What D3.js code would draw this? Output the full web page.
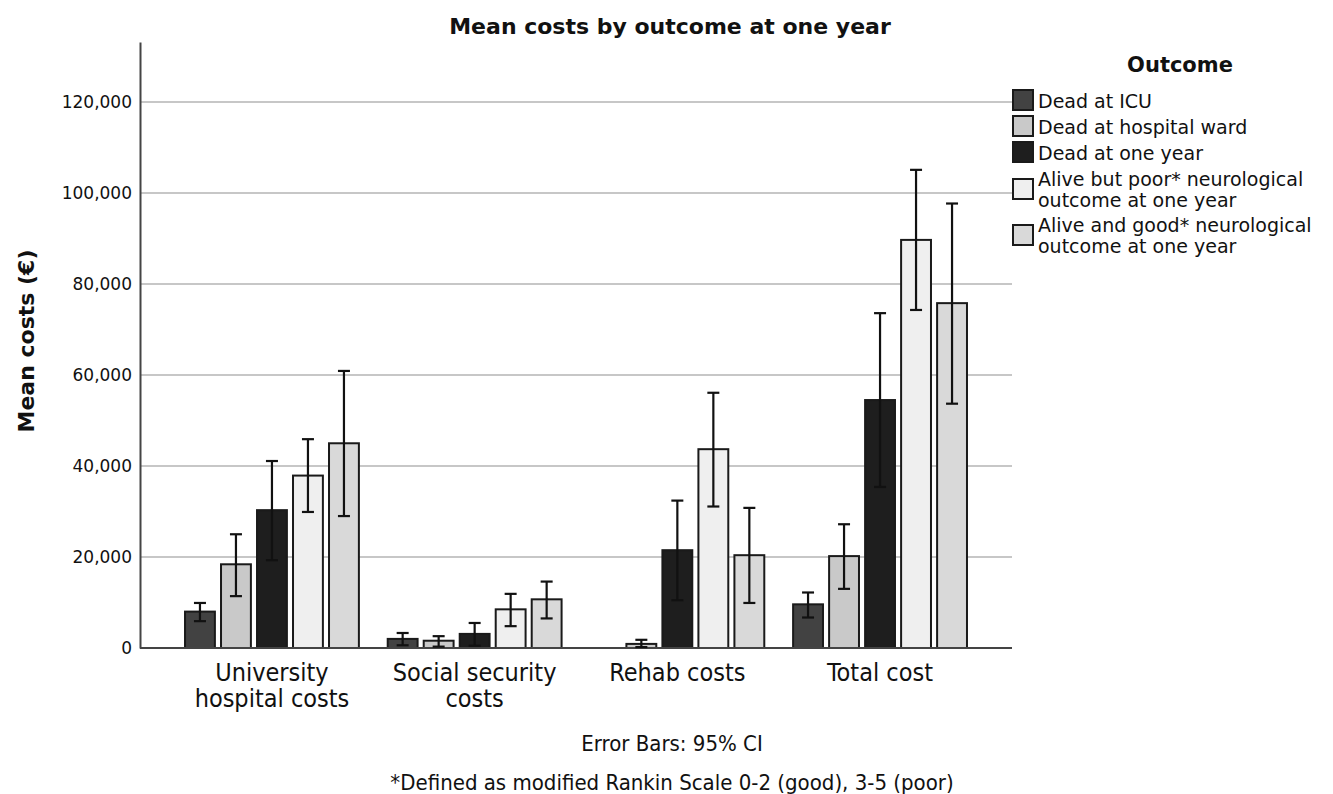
<!DOCTYPE html>
<html>
<head>
<meta charset="utf-8">
<script src="https://cdn.jsdelivr.net/npm/d3@7"></script>
<style>
  body { margin: 0; background: #fff; }
  text { fill: #111; }
</style>
</head>
<body>
<script>
'use strict';

const width = 1333;
const height = 794;

// data
const categories = ['University hospital costs', 'Social security costs', 'Rehab costs', 'Total cost'];
const categoryLines = [['University', 'hospital costs'], ['Social security', 'costs'], ['Rehab costs'], ['Total cost']];
const outcomes = ['Dead at ICU', 'Dead at hospital ward', 'Dead at one year',
  'Alive but poor* neurological outcome at one year', 'Alive and good* neurological outcome at one year'];
const outcomeLines = [['Dead at ICU'], ['Dead at hospital ward'], ['Dead at one year'],
  ['Alive but poor* neurological', 'outcome at one year'], ['Alive and good* neurological', 'outcome at one year']];

const meanDeadIcu  = [8000, 2000, 0, 9600];
const meanDeadWard = [18400, 1600, 900, 20200];
const meanDeadYear = [30300, 3100, 21500, 54500];
const meanPoor     = [37900, 8500, 43700, 89700];
const meanGood     = [45000, 10700, 20400, 75800];

const lowDeadIcu  = [5900, 600, null, 6700];
const lowDeadWard = [11400, 300, 200, 13000];
const lowDeadYear = [19300, 500, 10500, 35400];
const lowPoor     = [29900, 4800, 31100, 74300];
const lowGood     = [29000, 6500, 9900, 53700];

const highDeadIcu  = [9900, 3300, null, 12200];
const highDeadWard = [25000, 2600, 1800, 27200];
const highDeadYear = [41100, 5500, 32400, 73600];
const highPoor     = [45900, 11900, 56100, 105100];
const highGood     = [60900, 14600, 30800, 97700];

const yTicks = [0, 20000, 40000, 60000, 80000, 100000, 120000];
const colors = ['#424242', '#c9c9c9', '#1e1e1e', '#efefef', '#d9d9d9'];

const means = [meanDeadIcu, meanDeadWard, meanDeadYear, meanPoor, meanGood];
const lows = [lowDeadIcu, lowDeadWard, lowDeadYear, lowPoor, lowGood];
const highs = [highDeadIcu, highDeadWard, highDeadYear, highPoor, highGood];

const rows = [];
categories.forEach((c, ci) => {
  outcomes.forEach((o, oi) => {
    rows.push({ cat: c, outcome: o, oi: oi, mean: means[oi][ci], low: lows[oi][ci], high: highs[oi][ci] });
  });
});

const plotLeft = 140, plotRight = 1012, plotTop = 42, plotBottom = 648;

const svg = d3.select('body')
  .append('svg')
  .attr('width', width)
  .attr('height', height);

const x0 = d3.scaleBand()
  .domain(categories)
  .range([plotLeft, plotRight])
  .paddingInner(0.112)
  .paddingOuter(0.207);

const x1 = d3.scaleBand()
  .domain(outcomes)
  .range([0, x0.bandwidth()])
  .paddingInner(0.17)
  .paddingOuter(0.085);

const y = d3.scaleLinear()
  .domain([0, 133200])
  .range([plotBottom, plotTop]);

// grid lines
svg.append('g')
  .selectAll('line')
  .data(yTicks.filter((d) => d > 0))
  .enter()
  .append('line')
  .attr('x1', plotLeft)
  .attr('x2', plotRight)
  .attr('y1', (d) => y(d))
  .attr('y2', (d) => y(d))
  .attr('stroke', '#b4b4b4')
  .attr('stroke-width', 1.6);

// y axis
const yAxis = d3.axisLeft(y)
  .tickValues(yTicks)
  .tickSize(0)
  .tickPadding(8)
  .tickFormat(d3.format(','));

svg.append('g')
  .attr('transform', `translate(${plotLeft}, 0)`)
  .call(yAxis)
  .call((g) => g.select('.domain').attr('stroke', '#444').attr('stroke-width', 2))
  .call((g) => g.selectAll('text')
    .attr('font-family', 'DejaVu Sans')
    .attr('font-size', '17px')
    .attr('fill', '#222'));

// bars
const barG = svg.append('g');
barG.selectAll('rect')
  .data(rows)
  .enter()
  .append('rect')
  .attr('x', (d) => x0(d.cat) + x1(d.outcome))
  .attr('y', (d) => y(d.mean))
  .attr('width', x1.bandwidth())
  .attr('height', (d) => y(0) - y(d.mean))
  .attr('fill', (d) => colors[d.oi])
  .attr('stroke', '#1a1a1a')
  .attr('stroke-width', 2);

// x axis line
svg.append('line')
  .attr('x1', plotLeft)
  .attr('x2', plotRight)
  .attr('y1', y(0))
  .attr('y2', y(0))
  .attr('stroke', '#444')
  .attr('stroke-width', 2);

// error bars
const errRows = rows.filter((d) => d.low !== null);
const capW = 6;
const errG = svg.append('g').attr('stroke', '#111').attr('stroke-width', 2.2);
errRows.forEach((d) => {
  const cx = x0(d.cat) + x1(d.outcome) + x1.bandwidth() / 2;
  errG.append('line').attr('x1', cx).attr('x2', cx).attr('y1', y(d.low)).attr('y2', y(d.high));
  errG.append('line').attr('x1', cx - capW).attr('x2', cx + capW).attr('y1', y(d.low)).attr('y2', y(d.low));
  errG.append('line').attr('x1', cx - capW).attr('x2', cx + capW).attr('y1', y(d.high)).attr('y2', y(d.high));
});

// x category labels
const catG = svg.append('g');
categories.forEach((c, i) => {
  const t = catG.append('text')
    .attr('x', x0(c) + x0.bandwidth() / 2)
    .attr('y', 681)
    .attr('text-anchor', 'middle')
    .attr('font-family', 'Liberation Sans Narrow, DejaVu Sans Condensed, sans-serif')
    .attr('font-size', '25px');
  categoryLines[i].forEach((line, li) => {
    t.append('tspan')
      .attr('x', x0(c) + x0.bandwidth() / 2)
      .attr('dy', li === 0 ? 0 : 26)
      .text(line);
  });
});

// title
svg.append('text')
  .attr('x', 670)
  .attr('y', 34)
  .attr('text-anchor', 'middle')
  .attr('font-family', 'DejaVu Sans')
  .attr('font-weight', 'bold')
  .attr('font-size', '22px')
  .text('Mean costs by outcome at one year');

// y axis title
svg.append('text')
  .attr('transform', 'translate(34, 341) rotate(-90)')
  .attr('text-anchor', 'middle')
  .attr('font-family', 'DejaVu Sans')
  .attr('font-weight', 'bold')
  .attr('font-size', '22px')
  .text('Mean costs (€)');

// footnotes
svg.append('text')
  .attr('x', 672)
  .attr('y', 751)
  .attr('text-anchor', 'middle')
  .attr('font-family', 'DejaVu Sans Condensed, DejaVu Sans')
  .attr('font-size', '22px')
  .text('Error Bars: 95% CI');

svg.append('text')
  .attr('x', 672)
  .attr('y', 790)
  .attr('text-anchor', 'middle')
  .attr('font-family', 'DejaVu Sans Condensed, DejaVu Sans')
  .attr('font-size', '22px')
  .text('*Defined as modified Rankin Scale 0-2 (good), 3-5 (poor)');

// legend
const legend = svg.append('g');
legend.append('text')
  .attr('x', 1180)
  .attr('y', 72)
  .attr('text-anchor', 'middle')
  .attr('font-family', 'DejaVu Sans')
  .attr('font-weight', 'bold')
  .attr('font-size', '21px')
  .text('Outcome');

const legendY = [100, 126, 152, 189, 235];
outcomes.forEach((o, i) => {
  legend.append('rect')
    .attr('x', 1013)
    .attr('y', legendY[i] - 10)
    .attr('width', 20)
    .attr('height', 20)
    .attr('fill', colors[i])
    .attr('stroke', '#1a1a1a')
    .attr('stroke-width', 2);
  const lines = outcomeLines[i];
  const t = legend.append('text')
    .attr('x', 1038)
    .attr('y', lines.length === 1 ? legendY[i] + 8 : legendY[i] - 3)
    .attr('font-family', 'DejaVu Sans')
    .attr('font-size', '19px');
  lines.forEach((line, li) => {
    t.append('tspan')
      .attr('x', 1038)
      .attr('dy', li === 0 ? 0 : 21)
      .text(line);
  });
});
</script>
</body>
</html>
